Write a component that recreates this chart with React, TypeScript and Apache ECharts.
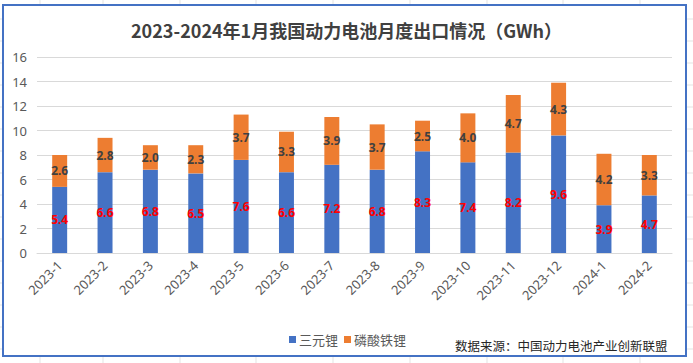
import React, { useEffect, useRef } from "react";
import * as echarts from "echarts";

const categories = [
  "2023-1", "2023-2", "2023-3", "2023-4", "2023-5", "2023-6", "2023-7",
  "2023-8", "2023-9", "2023-10", "2023-11", "2023-12", "2024-1", "2024-2",
];
const ternary = [5.4, 6.6, 6.8, 6.5, 7.6, 6.6, 7.2, 6.8, 8.3, 7.4, 8.2, 9.6, 3.9, 4.7];
const lfp = [2.6, 2.8, 2.0, 2.3, 3.7, 3.3, 3.9, 3.7, 2.5, 4.0, 4.7, 4.3, 4.2, 3.3];
const seriesNames = ["三元锂", "磷酸铁锂"];
const titleText = "2023-2024年1月我国动力电池月度出口情况（GWh）";
const sourceText = "数据来源：中国动力电池产业创新联盟";

const W = 693;
const H = 363;

export default function App() {
  const ref = useRef<HTMLDivElement>(null);
  useEffect(() => {
    document.body.style.margin = "0";
    if (!ref.current) return;
    const chart = echarts.init(ref.current, undefined, { renderer: "svg" });
    const font = "'Noto Sans', 'Noto Sans CJK SC', sans-serif";
    const cjk = "'Noto Sans CJK SC', sans-serif";

    const bgLines: any[] = [];
    const vx = [40, 103, 180, 256, 333, 410, 487, 563, 640];
    vx.forEach((x) => {
      bgLines.push({ type: "line", shape: { x1: x, y1: 0, x2: x, y2: 5 }, style: { stroke: "#E3E3E3", lineWidth: 1 }, silent: true });
      bgLines.push({ type: "line", shape: { x1: x, y1: 357, x2: x, y2: H }, style: { stroke: "#E3E3E3", lineWidth: 1 }, silent: true });
    });
    for (let y = 19; y < H; y += 22) {
      bgLines.push({ type: "line", shape: { x1: 687, y1: y, x2: W, y2: y }, style: { stroke: "#E3E3E3", lineWidth: 1 }, silent: true });
      bgLines.push({ type: "line", shape: { x1: 0, y1: y, x2: 2, y2: y }, style: { stroke: "#E3E3E3", lineWidth: 1 }, silent: true });
    }

    chart.setOption({
      animation: false,
      backgroundColor: "#FFFFFF",
      title: {
        text: titleText,
        left: "center",
        top: 16,
        textStyle: { fontFamily: cjk, fontSize: 18, fontWeight: "bold", color: "#404040" },
      },
      legend: {
        data: seriesNames,
        left: 284,
        top: 328,
        icon: "rect",
        itemWidth: 7,
        itemHeight: 7,
        itemGap: 6,
        textStyle: { fontFamily: cjk, fontSize: 13, color: "#595959", padding: [0, 0, 0, -2] },
      },
      grid: { left: 37, right: 21, top: 57, bottom: 110, containLabel: false },
      xAxis: {
        type: "category",
        data: categories,
        axisTick: { show: false },
        axisLine: { lineStyle: { color: "#D9D9D9", width: 1 } },
        axisLabel: { rotate: 45, fontSize: 13, color: "#595959", fontFamily: font, margin: 10, interval: 0 },
      },
      yAxis: {
        type: "value",
        min: 0,
        max: 16,
        interval: 2,
        axisLine: { show: false },
        axisTick: { show: false },
        splitLine: { lineStyle: { color: "#D9D9D9", width: 1 } },
        axisLabel: { fontSize: 13, color: "#595959", fontFamily: font, margin: 10 },
      },
      series: [
        {
          name: seriesNames[0],
          type: "bar",
          stack: "total",
          data: ternary,
          barWidth: "33%",
          itemStyle: { color: "#4472C4" },
          label: {
            show: true,
            position: "inside",
            formatter: (p: any) => Number(p.value).toFixed(1),
            color: "#FF0000",
            fontWeight: "bold",
            fontSize: 12,
            fontFamily: font,
          },
        },
        {
          name: seriesNames[1],
          type: "bar",
          stack: "total",
          data: lfp,
          barWidth: "33%",
          itemStyle: { color: "#ED7D31" },
          label: {
            show: true,
            position: "inside",
            formatter: (p: any) => Number(p.value).toFixed(1),
            color: "#404040",
            fontWeight: "bold",
            fontSize: 12,
            fontFamily: font,
          },
        },
      ],
      graphic: [
        ...bgLines,
        {
          type: "text",
          x: 455,
          y: 345,
          style: { text: sourceText, fontFamily: cjk, fontSize: 12.5, fill: "#262626", textVerticalAlign: "middle" },
          silent: true,
        },
        {
          type: "rect",
          shape: { x: 3, y: 5, width: 683, height: 351 },
          style: { fill: "none", stroke: "#4472C4", lineWidth: 2 },
          silent: true,
          z: 100,
        },
      ],
    });
    return () => chart.dispose();
  }, []);
  return <div ref={ref} style={{ width: W, height: H }} />;
}
